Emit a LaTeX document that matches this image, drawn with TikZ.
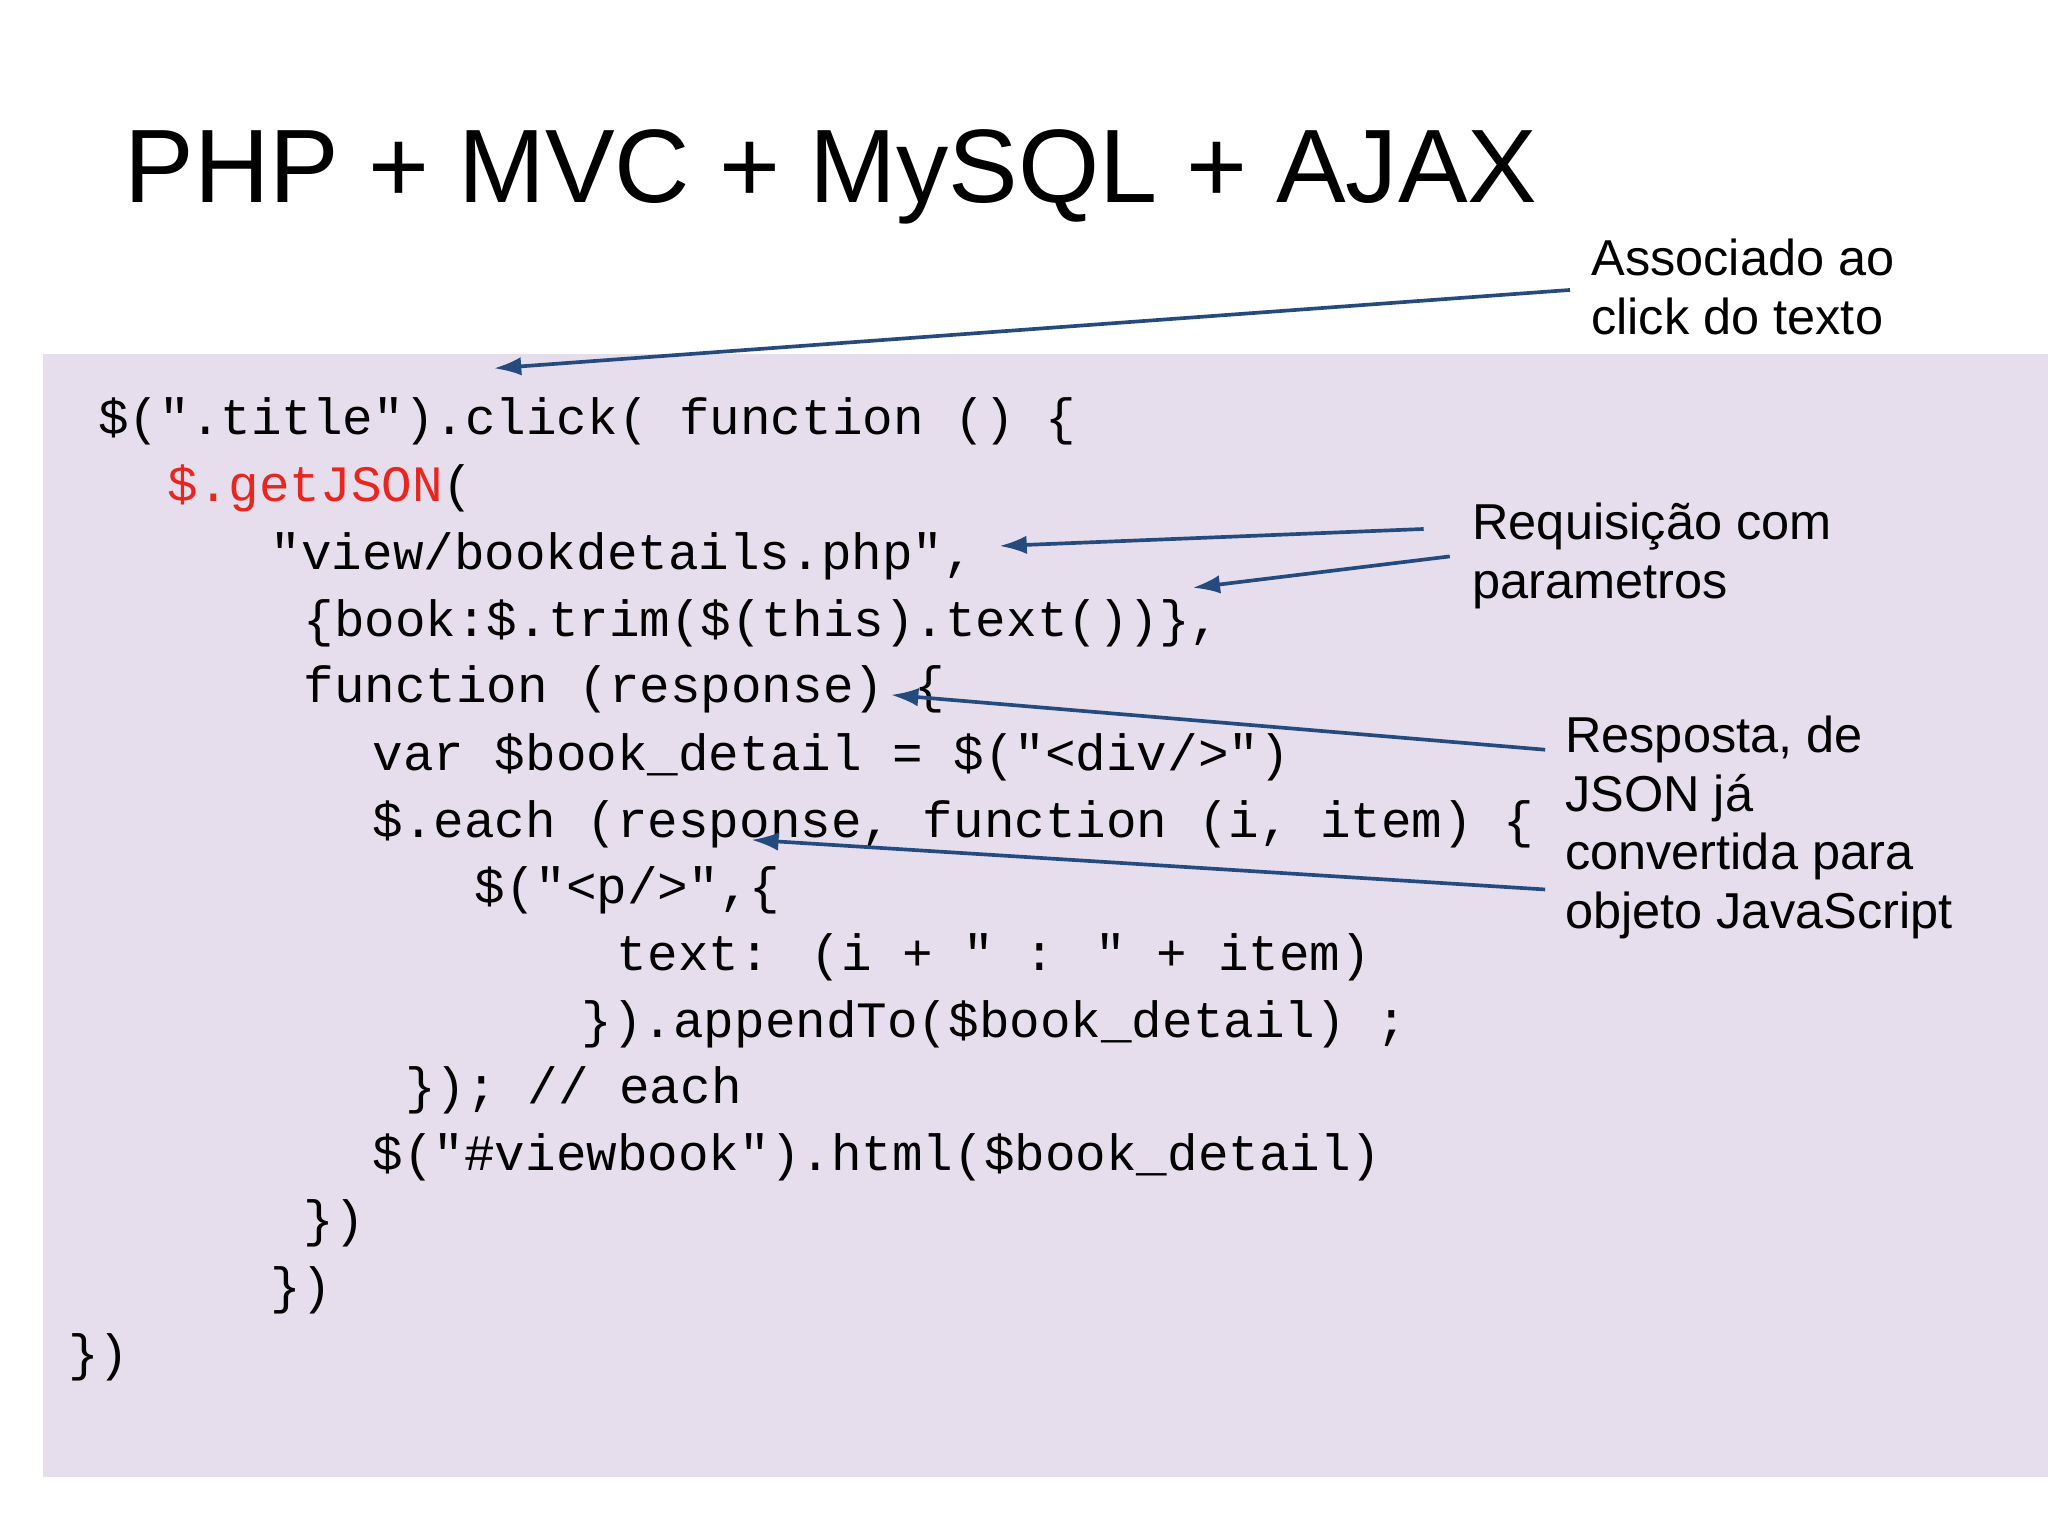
\documentclass[tikz,border=0pt]{standalone}
\usepackage{fontspec}
\usetikzlibrary{arrows.meta}
\setmainfont{Liberation Sans}
\newfontfamily\codefont{Liberation Mono}
\begin{document}
\begin{tikzpicture}[x=0.02cm,y=0.02cm,
  code/.style={anchor=base west,inner sep=0,font=\codefont\fontsize{22.2}{26}\selectfont},
  note/.style={anchor=base west,inner sep=0,font=\fontsize{22}{25.6}\selectfont,align=left},
  arr/.style={draw=arrowc,line width=1.6pt,-{Latex[length=12pt,width=8pt]}}]
\definecolor{bgc}{HTML}{E6DEEC}
\definecolor{arrowc}{HTML}{254A7E}
\definecolor{redc}{HTML}{E8261F}
\useasboundingbox (0,0) rectangle (1568,-1176);
\fill[white] (0,0) rectangle (1568,-1176);
\fill[bgc] (33,-271) rectangle (1568,-1131);
\node[anchor=base west,inner sep=0,font=\fontsize{45.5}{52}\selectfont] (title) at (95,-155) {PHP + MVC + MySQL + AJAX};
\node[code] (l1) at (75,-333) {\$(".title").click( function () \{};
\node[code] (l2) at (128,-384) {\textcolor{redc}{\$.getJSON}(};
\node[code] (l3) at (207,-436) {"view/bookdetails.php",};
\node[code] (l4) at (232,-487) {\{book:\$.trim(\$(this).text())\},};
\node[code] (l5) at (232,-538) {function (response) \{};
\node[code] (l6) at (285,-590) {var \$book\_detail = \$("<div/>")};
\node[code] (l7) at (285,-641) {\$.each (response, function (i, item) \{};
\node[code] (l8) at (363,-692) {\$("<p/>",\{};
\node[code] (l9) at (472,-743) {text: (i + " : " + item)};
\node[code] (l10) at (445,-794) {\}).appendTo(\$book\_detail) ;};
\node[code] (l11) at (310,-845) {\}); // each};
\node[code] (l12) at (285,-896) {\$("\#viewbook").html(\$book\_detail)};
\node[code] (l13) at (232,-947) {\})};
\node[code] (l14) at (207,-998) {\})};
\node[code] (l15) at (52,-1049) {\})};
\node[note] (n1) at (1218,-256) {Associado ao\\click do texto};
\node[note] (n2) at (1127,-458) {Requisição com\\parametros};
\node[note] (n3) at (1198,-711) {Resposta, de\\JSON já\\convertida para\\objeto JavaScript};
\coordinate (s1) at (1202,-222); \coordinate (t1) at (378,-282);
\coordinate (s2) at (1090,-405); \coordinate (t2) at (765,-418);
\coordinate (s3) at (1110,-426); \coordinate (t3) at (913,-450);
\coordinate (s4) at (1183,-574); \coordinate (t4) at (682,-532);
\coordinate (s5) at (1183,-681); \coordinate (t5) at (575,-643);
\draw[arr] (s1) -- (t1);
\draw[arr] (s2) -- (t2);
\draw[arr] (s3) -- (t3);
\draw[arr] (s4) -- (t4);
\draw[arr] (s5) -- (t5);
\end{tikzpicture}
\end{document}
